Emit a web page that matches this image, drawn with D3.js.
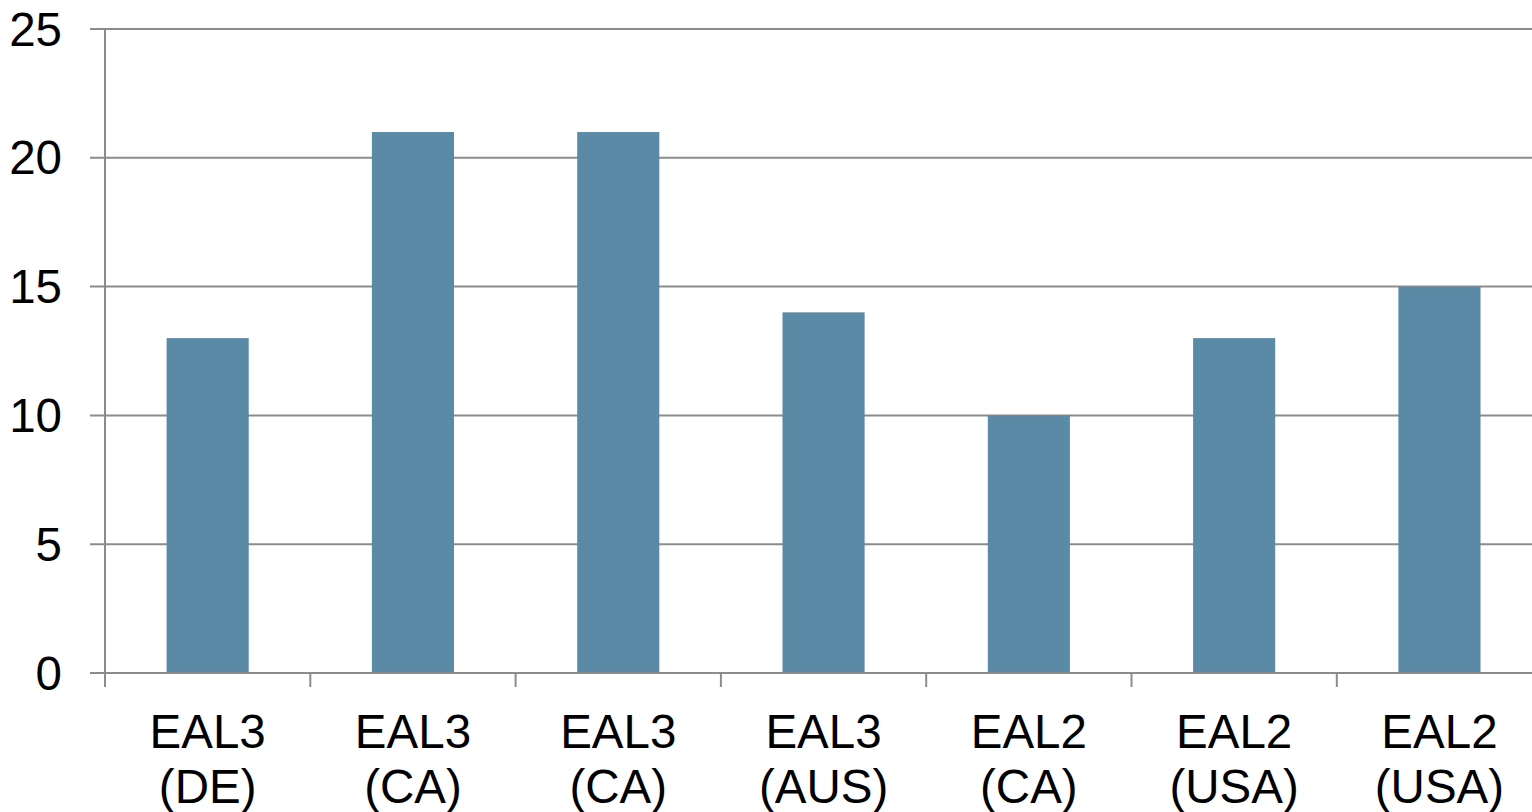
<!DOCTYPE html>
<html>
<head>
<meta charset="utf-8">
<script src="https://cdn.jsdelivr.net/npm/d3@7"></script>
<style>
  html, body { margin: 0; padding: 0; background: #fff; }
  svg { display: block; }
  text { font-family: "Liberation Sans", Arial, sans-serif; fill: #000; }
</style>
</head>
<body>
<svg id="chart" width="1532" height="812"></svg>
<script>
// Categories (two-line labels) and their counts
const levels = ["EAL3", "EAL3", "EAL3", "EAL3", "EAL2", "EAL2", "EAL2"];
const countries = ["(DE)", "(CA)", "(CA)", "(AUS)", "(CA)", "(USA)", "(USA)"];
const counts = [13, 21, 21, 14, 10, 13, 15];
const yTicks = [0, 5, 10, 15, 20, 25];

const svg = d3.select("#chart");
const plotLeft = 105, plotTop = 29, plotBottom = 673;
const step = 205.3;
const plotRight = plotLeft + step * levels.length;

const keys = levels.map((d, i) => i);
const x = d3.scaleBand().domain(keys).range([plotLeft, plotRight]).paddingInner(0).paddingOuter(0);
const y = d3.scaleLinear().domain([0, 25]).range([plotBottom, plotTop]);

const gridColor = "#8c8c8c";
const fontSize = 47.5;

// horizontal gridlines, extended left past the axis as tick marks
svg.append("g")
  .selectAll("line")
  .data(yTicks)
  .join("line")
  .attr("x1", plotLeft - 15)
  .attr("x2", plotRight)
  .attr("y1", d => y(d))
  .attr("y2", d => y(d))
  .attr("stroke", gridColor)
  .attr("stroke-width", 2);

// bars
const barW = x.bandwidth() * 0.4;
svg.append("g")
  .selectAll("rect")
  .data(counts)
  .join("rect")
  .attr("x", (d, i) => x(i) + (x.bandwidth() - barW) / 2)
  .attr("y", d => y(d))
  .attr("width", barW)
  .attr("height", d => y(0) - y(d))
  .attr("fill", "#5a8aa5");

// vertical axis line
svg.append("line")
  .attr("x1", plotLeft).attr("x2", plotLeft)
  .attr("y1", plotTop).attr("y2", plotBottom + 14)
  .attr("stroke", gridColor).attr("stroke-width", 2);

// baseline redrawn above bars
svg.append("line")
  .attr("x1", plotLeft - 15).attr("x2", plotRight)
  .attr("y1", y(0)).attr("y2", y(0))
  .attr("stroke", gridColor).attr("stroke-width", 2);

// category boundary ticks
svg.append("g")
  .selectAll("line")
  .data(keys.slice(1))
  .join("line")
  .attr("x1", d => x(d)).attr("x2", d => x(d))
  .attr("y1", plotBottom).attr("y2", plotBottom + 14)
  .attr("stroke", gridColor).attr("stroke-width", 2);

// y tick labels
svg.append("g")
  .selectAll("text")
  .data(yTicks)
  .join("text")
  .attr("x", 62)
  .attr("y", d => y(d))
  .attr("dy", "0.35em")
  .attr("text-anchor", "end")
  .attr("font-size", fontSize)
  .text(d => d);

// x category labels
const xl = svg.append("g")
  .selectAll("text")
  .data(keys)
  .join("text")
  .attr("text-anchor", "middle")
  .attr("font-size", fontSize);
xl.append("tspan")
  .attr("x", d => x(d) + x.bandwidth() / 2)
  .attr("y", 748)
  .text(d => levels[d]);
xl.append("tspan")
  .attr("x", d => x(d) + x.bandwidth() / 2)
  .attr("y", 803)
  .text(d => countries[d]);
</script>
</body>
</html>
